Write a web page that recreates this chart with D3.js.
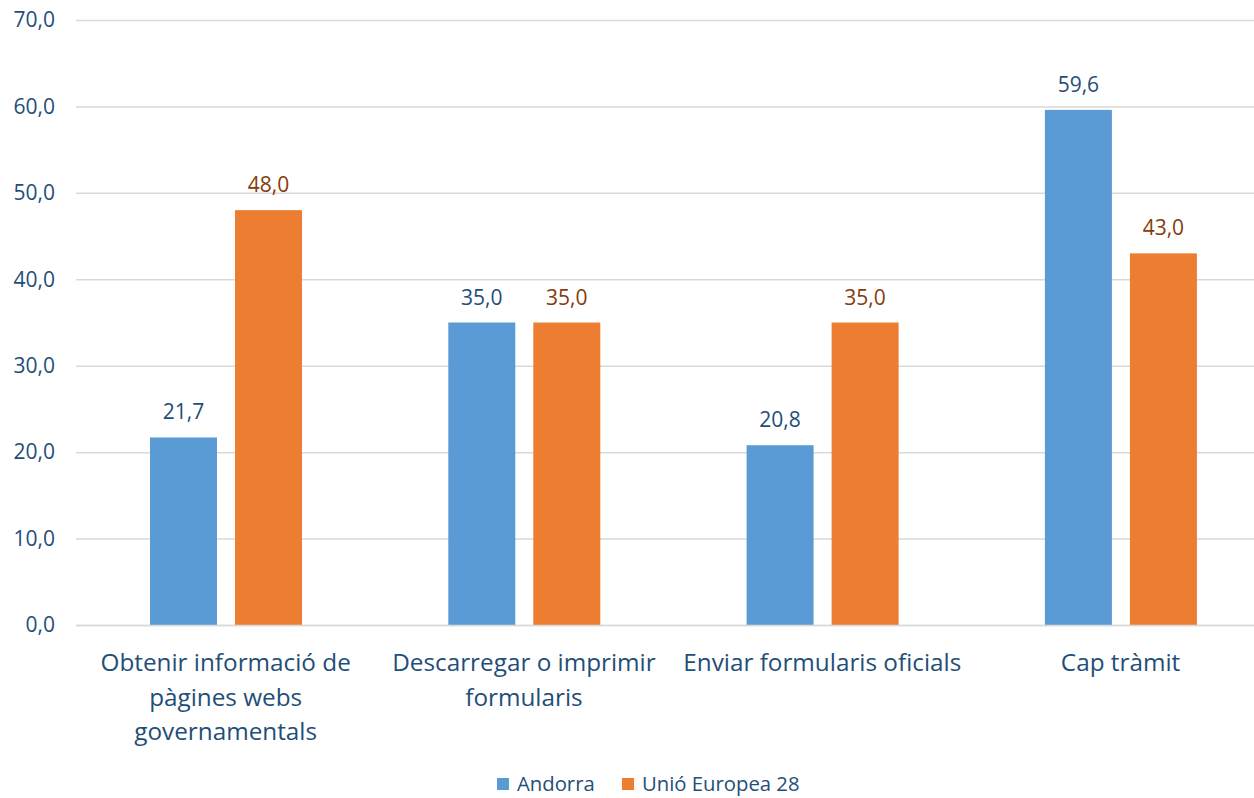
<!DOCTYPE html>
<html><head><meta charset="utf-8">
<script src="https://cdn.jsdelivr.net/npm/d3@7"></script>
<style>body{margin:0;background:#fff}svg{display:block}text{font-family:"Open Sans",sans-serif}</style>
</head><body><svg id="c" width="1254" height="798"></svg>
<script>
const categories = [["Obtenir informació de","pàgines webs","governamentals"],["Descarregar o imprimir","formularis"],["Enviar formularis oficials"],["Cap tràmit"]];
const seriesNames = ["Andorra","Unió Europea 28"];
const andorra = [21.7, 35.0, 20.8, 59.6];
const eu28 = [48.0, 35.0, 35.0, 43.0];
const yTicks = [0,10,20,30,40,50,60,70];
const colors = ["#5B9BD5","#ED7D31"];
const labelColors = ["#1F4E79","#843C0C"];
const axisColor = "#1F4E79";

const svg = d3.select("#c");
const fmt = v => v.toFixed(1).replace(".", ",");
const y = d3.scaleLinear().domain([0,70]).range([625,20]);
const x = d3.scaleBand().domain(d3.range(categories.length)).range([76.5, 76.5+4*298.3]).padding(0);
const xs = d3.scaleBand().domain([0,1]).range([73.5,225.5]).paddingInner(0.212).paddingOuter(0);

// gridlines
svg.append("g").selectAll("line").data(yTicks).join("line")
  .attr("x1",76).attr("x2",1254).attr("y1",d=>y(d)+0.5).attr("y2",d=>y(d)+0.5)
  .attr("stroke","#D9D9D9").attr("stroke-width",1.5);
// y tick labels
svg.append("g").selectAll("text").data(yTicks).join("text")
  .attr("x",55).attr("y",d=>y(d)).attr("dy","0.35em").attr("text-anchor","end")
  .attr("font-size",21).attr("fill",axisColor).text(d=>fmt(d));

const series = [andorra, eu28];
series.forEach((vals,si)=>{
  const g = svg.append("g");
  g.selectAll("rect").data(vals).join("rect")
    .attr("x",(d,i)=>x(i)+xs(si)).attr("width",xs.bandwidth())
    .attr("y",d=>y(d)).attr("height",d=>y(0)-y(d)).attr("fill",colors[si]);
  g.selectAll("text").data(vals).join("text")
    .attr("x",(d,i)=>x(i)+xs(si)+xs.bandwidth()/2).attr("y",d=>y(d)-18)
    .attr("text-anchor","middle").attr("font-size",21).attr("fill",labelColors[si]).text(d=>fmt(d));
});
svg.append("line").attr("x1",76).attr("x2",1254).attr("y1",y(0)+0.5).attr("y2",y(0)+0.5).attr("stroke","#D9D9D9").attr("stroke-width",1.5);

// category labels
const cg = svg.append("g");
categories.forEach((lines,i)=>{
  const t = cg.append("text").attr("text-anchor","middle").attr("font-size",24.3).attr("fill",axisColor);
  lines.forEach((ln,j)=>{
    t.append("tspan").attr("x",x(i)+x.bandwidth()/2).attr("y",671+j*34.5).text(ln);
  });
});

// legend
const legX = [497, 622];
const lg = svg.append("g");
seriesNames.forEach((n,i)=>{
  lg.append("rect").attr("x",legX[i]).attr("y",778).attr("width",12).attr("height",12).attr("fill",colors[i]);
  lg.append("text").attr("x",legX[i]+20).attr("y",784).attr("dy","0.35em").attr("font-size",20.3).attr("fill",axisColor).text(n);
});
</script></body></html>
